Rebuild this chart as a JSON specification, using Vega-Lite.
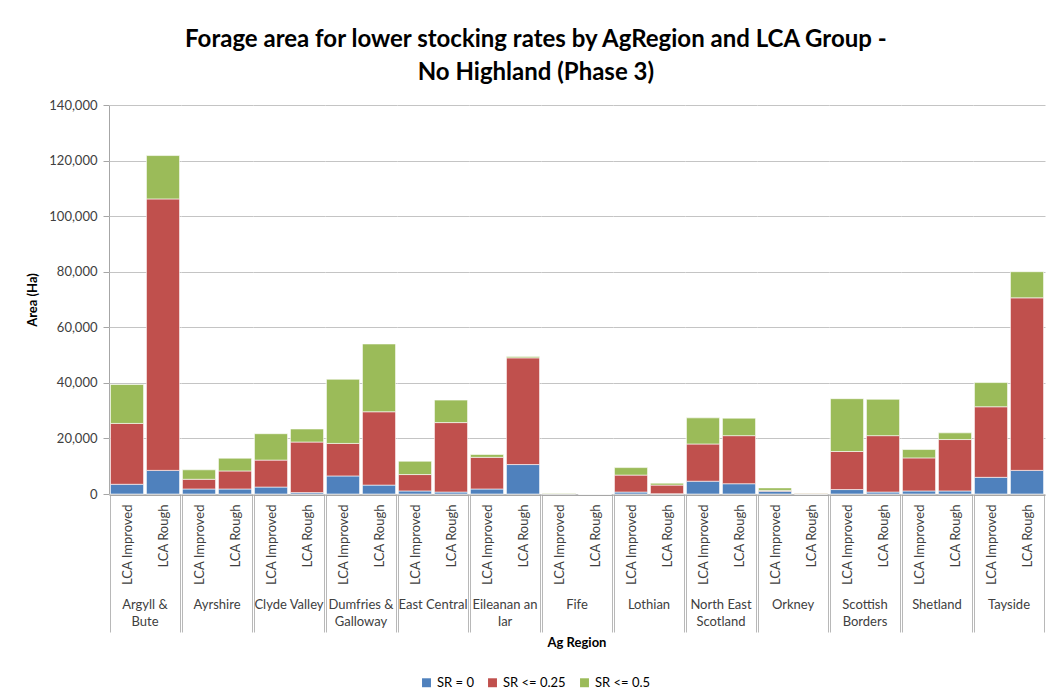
{
  "$schema": "https://vega.github.io/schema/vega-lite/v6.json",
  "padding": {"left": 26, "top": 28, "right": 9, "bottom": 5},
  "background": "white",
  "title": {
    "text": ["Forage area for lower stocking rates by AgRegion and LCA Group -", "No Highland (Phase 3)"],
    "font": "Lato", "fontSize": 24, "fontWeight": "bold", "color": "#000000",
    "anchor": "middle", "frame": "bounds", "lineHeight": 33, "offset": 14
  },
  "data": {"values": [
    {"region": "Argyll & Bute", "lca": "LCA Improved", "sr": "SR = 0", "area": 3500},
    {"region": "Argyll & Bute", "lca": "LCA Improved", "sr": "SR <= 0.25", "area": 21900},
    {"region": "Argyll & Bute", "lca": "LCA Improved", "sr": "SR <= 0.5", "area": 14000},
    {"region": "Argyll & Bute", "lca": "LCA Rough", "sr": "SR = 0", "area": 8500},
    {"region": "Argyll & Bute", "lca": "LCA Rough", "sr": "SR <= 0.25", "area": 97700},
    {"region": "Argyll & Bute", "lca": "LCA Rough", "sr": "SR <= 0.5", "area": 15600},
    {"region": "Ayrshire", "lca": "LCA Improved", "sr": "SR = 0", "area": 1800},
    {"region": "Ayrshire", "lca": "LCA Improved", "sr": "SR <= 0.25", "area": 3500},
    {"region": "Ayrshire", "lca": "LCA Improved", "sr": "SR <= 0.5", "area": 3400},
    {"region": "Ayrshire", "lca": "LCA Rough", "sr": "SR = 0", "area": 1800},
    {"region": "Ayrshire", "lca": "LCA Rough", "sr": "SR <= 0.25", "area": 6500},
    {"region": "Ayrshire", "lca": "LCA Rough", "sr": "SR <= 0.5", "area": 4600},
    {"region": "Clyde Valley", "lca": "LCA Improved", "sr": "SR = 0", "area": 2500},
    {"region": "Clyde Valley", "lca": "LCA Improved", "sr": "SR <= 0.25", "area": 9700},
    {"region": "Clyde Valley", "lca": "LCA Improved", "sr": "SR <= 0.5", "area": 9500},
    {"region": "Clyde Valley", "lca": "LCA Rough", "sr": "SR = 0", "area": 500},
    {"region": "Clyde Valley", "lca": "LCA Rough", "sr": "SR <= 0.25", "area": 18200},
    {"region": "Clyde Valley", "lca": "LCA Rough", "sr": "SR <= 0.5", "area": 4700},
    {"region": "Dumfries & Galloway", "lca": "LCA Improved", "sr": "SR = 0", "area": 6500},
    {"region": "Dumfries & Galloway", "lca": "LCA Improved", "sr": "SR <= 0.25", "area": 11700},
    {"region": "Dumfries & Galloway", "lca": "LCA Improved", "sr": "SR <= 0.5", "area": 23100},
    {"region": "Dumfries & Galloway", "lca": "LCA Rough", "sr": "SR = 0", "area": 3200},
    {"region": "Dumfries & Galloway", "lca": "LCA Rough", "sr": "SR <= 0.25", "area": 26400},
    {"region": "Dumfries & Galloway", "lca": "LCA Rough", "sr": "SR <= 0.5", "area": 24400},
    {"region": "East Central", "lca": "LCA Improved", "sr": "SR = 0", "area": 1100},
    {"region": "East Central", "lca": "LCA Improved", "sr": "SR <= 0.25", "area": 5900},
    {"region": "East Central", "lca": "LCA Improved", "sr": "SR <= 0.5", "area": 4800},
    {"region": "East Central", "lca": "LCA Rough", "sr": "SR = 0", "area": 700},
    {"region": "East Central", "lca": "LCA Rough", "sr": "SR <= 0.25", "area": 25000},
    {"region": "East Central", "lca": "LCA Rough", "sr": "SR <= 0.5", "area": 8100},
    {"region": "Eileanan an Iar", "lca": "LCA Improved", "sr": "SR = 0", "area": 1800},
    {"region": "Eileanan an Iar", "lca": "LCA Improved", "sr": "SR <= 0.25", "area": 11400},
    {"region": "Eileanan an Iar", "lca": "LCA Improved", "sr": "SR <= 0.5", "area": 1000},
    {"region": "Eileanan an Iar", "lca": "LCA Rough", "sr": "SR = 0", "area": 10600},
    {"region": "Eileanan an Iar", "lca": "LCA Rough", "sr": "SR <= 0.25", "area": 38400},
    {"region": "Eileanan an Iar", "lca": "LCA Rough", "sr": "SR <= 0.5", "area": 500},
    {"region": "Fife", "lca": "LCA Improved", "sr": "SR = 0", "area": 100},
    {"region": "Fife", "lca": "LCA Improved", "sr": "SR <= 0.25", "area": 100},
    {"region": "Fife", "lca": "LCA Improved", "sr": "SR <= 0.5", "area": 200},
    {"region": "Fife", "lca": "LCA Rough", "sr": "SR = 0", "area": 0},
    {"region": "Fife", "lca": "LCA Rough", "sr": "SR <= 0.25", "area": 0},
    {"region": "Fife", "lca": "LCA Rough", "sr": "SR <= 0.5", "area": 0},
    {"region": "Lothian", "lca": "LCA Improved", "sr": "SR = 0", "area": 700},
    {"region": "Lothian", "lca": "LCA Improved", "sr": "SR <= 0.25", "area": 6100},
    {"region": "Lothian", "lca": "LCA Improved", "sr": "SR <= 0.5", "area": 2700},
    {"region": "Lothian", "lca": "LCA Rough", "sr": "SR = 0", "area": 100},
    {"region": "Lothian", "lca": "LCA Rough", "sr": "SR <= 0.25", "area": 3100},
    {"region": "Lothian", "lca": "LCA Rough", "sr": "SR <= 0.5", "area": 700},
    {"region": "North East Scotland", "lca": "LCA Improved", "sr": "SR = 0", "area": 4600},
    {"region": "North East Scotland", "lca": "LCA Improved", "sr": "SR <= 0.25", "area": 13400},
    {"region": "North East Scotland", "lca": "LCA Improved", "sr": "SR <= 0.5", "area": 9400},
    {"region": "North East Scotland", "lca": "LCA Rough", "sr": "SR = 0", "area": 3700},
    {"region": "North East Scotland", "lca": "LCA Rough", "sr": "SR <= 0.25", "area": 17300},
    {"region": "North East Scotland", "lca": "LCA Rough", "sr": "SR <= 0.5", "area": 6300},
    {"region": "Orkney", "lca": "LCA Improved", "sr": "SR = 0", "area": 1000},
    {"region": "Orkney", "lca": "LCA Improved", "sr": "SR <= 0.25", "area": 300},
    {"region": "Orkney", "lca": "LCA Improved", "sr": "SR <= 0.5", "area": 900},
    {"region": "Orkney", "lca": "LCA Rough", "sr": "SR = 0", "area": 0},
    {"region": "Orkney", "lca": "LCA Rough", "sr": "SR <= 0.25", "area": 250},
    {"region": "Orkney", "lca": "LCA Rough", "sr": "SR <= 0.5", "area": 150},
    {"region": "Scottish Borders", "lca": "LCA Improved", "sr": "SR = 0", "area": 1600},
    {"region": "Scottish Borders", "lca": "LCA Improved", "sr": "SR <= 0.25", "area": 13700},
    {"region": "Scottish Borders", "lca": "LCA Improved", "sr": "SR <= 0.5", "area": 19000},
    {"region": "Scottish Borders", "lca": "LCA Rough", "sr": "SR = 0", "area": 700},
    {"region": "Scottish Borders", "lca": "LCA Rough", "sr": "SR <= 0.25", "area": 20300},
    {"region": "Scottish Borders", "lca": "LCA Rough", "sr": "SR <= 0.5", "area": 13100},
    {"region": "Shetland", "lca": "LCA Improved", "sr": "SR = 0", "area": 1100},
    {"region": "Shetland", "lca": "LCA Improved", "sr": "SR <= 0.25", "area": 11900},
    {"region": "Shetland", "lca": "LCA Improved", "sr": "SR <= 0.5", "area": 3000},
    {"region": "Shetland", "lca": "LCA Rough", "sr": "SR = 0", "area": 1100},
    {"region": "Shetland", "lca": "LCA Rough", "sr": "SR <= 0.25", "area": 18500},
    {"region": "Shetland", "lca": "LCA Rough", "sr": "SR <= 0.5", "area": 2400},
    {"region": "Tayside", "lca": "LCA Improved", "sr": "SR = 0", "area": 6000},
    {"region": "Tayside", "lca": "LCA Improved", "sr": "SR <= 0.25", "area": 25400},
    {"region": "Tayside", "lca": "LCA Improved", "sr": "SR <= 0.5", "area": 8700},
    {"region": "Tayside", "lca": "LCA Rough", "sr": "SR = 0", "area": 8500},
    {"region": "Tayside", "lca": "LCA Rough", "sr": "SR <= 0.25", "area": 62100},
    {"region": "Tayside", "lca": "LCA Rough", "sr": "SR <= 0.5", "area": 9400}
  ]},
  "transform": [
    {"calculate": "indexof(['SR = 0', 'SR <= 0.25', 'SR <= 0.5'], datum.sr)", "as": "stack_rank"}
  ],
  "facet": {
    "column": {
      "field": "region", "type": "nominal", "title": "Ag Region",
      "header": {
        "labelOrient": "bottom", "titleOrient": "bottom",
        "labelFont": "Lato", "labelFontSize": 13, "labelColor": "#404040",
        "labelPadding": -34, "labelLineHeight": 17, "labelBaseline": "top",
        "labelExpr": "{'Argyll & Bute': ['Argyll &', 'Bute'], 'Dumfries & Galloway': ['Dumfries &', 'Galloway'], 'Eileanan an Iar': ['Eileanan an', 'Iar'], 'North East Scotland': ['North East', 'Scotland'], 'Scottish Borders': ['Scottish', 'Borders']}[datum.value] || datum.value",
        "titleFont": "Lato", "titleFontSize": 13, "titleFontWeight": "bold", "titleColor": "#000000",
        "titlePadding": -6
      }
    }
  },
  "spacing": 0,
  "spec": {
    "width": 72,
    "height": 389,
    "mark": {"type": "bar", "stroke": "white", "strokeWidth": 0.6},
    "encoding": {
      "x": {
        "field": "lca", "type": "nominal", "title": null,
        "scale": {"paddingInner": 0.08, "paddingOuter": 0.04},
        "axis": {
          "labelAngle": -90, "labelAlign": "right", "labelBaseline": "middle",
          "ticks": true, "tickBand": "extent", "tickSize": 137, "tickColor": "#b8b8b8",
          "tickOpacity": {"condition": {"test": "datum.value !== 'LCA Improved'", "value": 1}, "value": 0},
          "labelPadding": -128, "labelFont": "Lato", "labelFontSize": 13, "labelColor": "#404040", "domainColor": "#a6a6a6"
        }
      },
      "y": {
        "field": "area", "type": "quantitative", "stack": "zero", "title": "Area (Ha)",
        "scale": {"domain": [0, 140000], "nice": false},
        "axis": {"values": [0, 20000, 40000, 60000, 80000, 100000, 120000, 140000], "format": ",d", "tickSize": 6, "labelPadding": 6, "labelFont": "Lato", "labelFontSize": 13, "labelColor": "#404040", "titleFont": "Lato", "titleFontSize": 13, "titleFontWeight": "bold", "titleColor": "#000000", "titlePadding": 9, "domainColor": "#a6a6a6", "tickColor": "#a6a6a6", "gridColor": "#c4c4c4"}
      },
      "order": {"field": "stack_rank", "type": "quantitative", "sort": "ascending"},
      "color": {
        "field": "sr", "type": "nominal", "sort": ["SR = 0", "SR <= 0.25", "SR <= 0.5"],
        "scale": {"domain": ["SR = 0", "SR <= 0.25", "SR <= 0.5"], "range": ["#4F81BD", "#C0504D", "#9BBB59"]},
        "legend": {"orient": "bottom", "direction": "horizontal", "title": null, "symbolType": "square", "symbolSize": 80, "symbolStrokeWidth": 0, "labelFont": "Lato", "labelFontSize": 13, "labelColor": "#000000", "columnPadding": 12, "offset": 26}
      }
    }
  },
  "config": {
    "view": {"stroke": null},
    "axis": {"gridColor": "#c4c4c4"},
    "legend": {"layout": {"bottom": {"anchor": "middle"}}}
  }
}
